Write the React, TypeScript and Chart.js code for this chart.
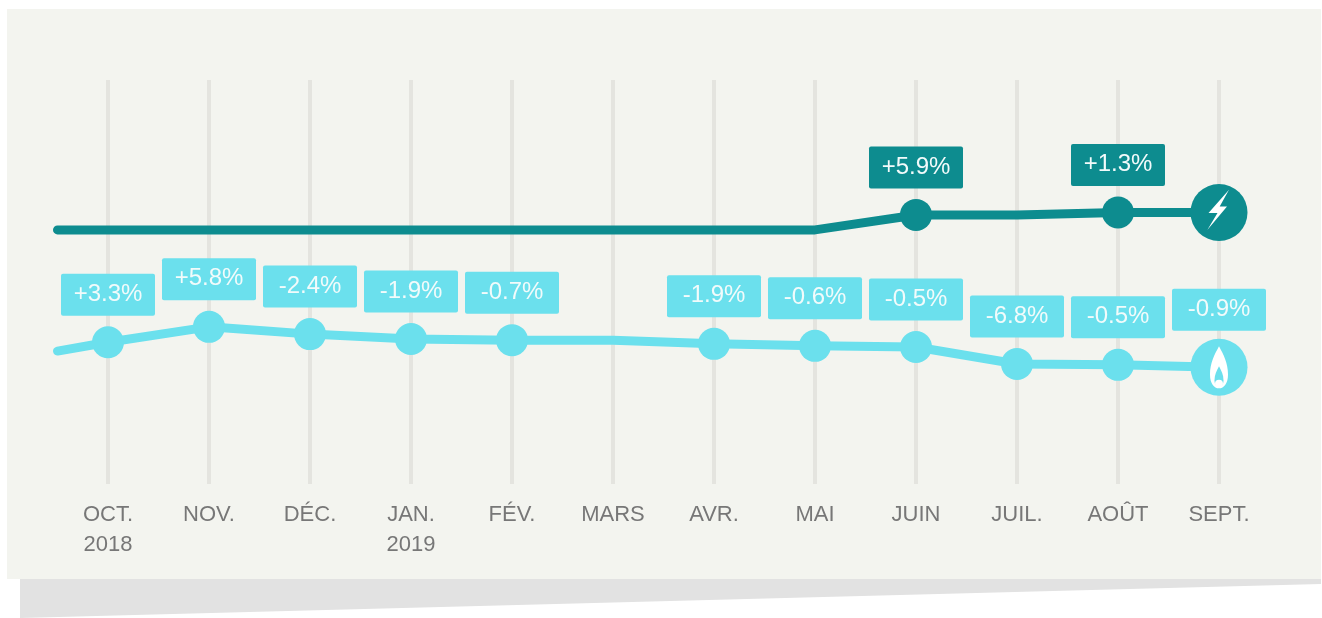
import React, { useEffect, useRef } from "react";
import { Chart, registerables } from "chart.js";

Chart.register(...registerables);

const months = ["OCT.", "NOV.", "DÉC.", "JAN.", "FÉV.", "MARS", "AVR.", "MAI", "JUIN", "JUIL.", "AOÛT", "SEPT."];
const years = ["2018", "", "", "2019", "", "", "", "", "", "", "", ""];

// Index values per month; the line also starts half a month before OCT.
const xPositions = [-0.5, 0, 1, 2, 3, 4, 5, 6, 7, 8, 9, 10, 11];
const electricity = [62.9, 62.9, 62.9, 62.9, 62.9, 62.9, 62.9, 62.9, 62.9, 66.6, 66.6, 67.2, 67.2];
const gas = [32.9, 35.1, 38.9, 37.1, 35.9, 35.6, 35.6, 34.7, 34.2, 33.9, 29.7, 29.5, 28.9];

const electricityLabels = ["", "", "", "", "", "", "", "", "", "+5.9%", "", "+1.3%", ""];
const gasLabels = ["", "+3.3%", "+5.8%", "-2.4%", "-1.9%", "-0.7%", "", "-1.9%", "-0.6%", "-0.5%", "-6.8%", "-0.5%", "-0.9%"];

const DARK = "#0d8c8f";
const LIGHT = "#6be0ed";
const PANEL = "#f3f4ef";
const SHADOW = "#e2e2e2";
const GRID = "#e4e4df";
const TICK = "#777777";
const BADGE_TEXT = "#f2fbfb";
const FONT = '"Liberation Sans", Arial, sans-serif';

const darkRadii = electricityLabels.map((l, i) =>
  i === electricityLabels.length - 1 ? 28.5 : l ? 16 : 0
);
const lightRadii = gasLabels.map((l, i) =>
  i === gasLabels.length - 1 ? 28.5 : l ? 16 : 0
);

function roundRect(ctx: CanvasRenderingContext2D, x: number, y: number, w: number, h: number, r: number) {
  ctx.beginPath();
  ctx.roundRect(x, y, w, h, r);
  ctx.fill();
}

function polygon(ctx: CanvasRenderingContext2D, cx: number, cy: number, pts: number[][]) {
  ctx.beginPath();
  pts.forEach(([dx, dy], i) => (i ? ctx.lineTo(cx + dx, cy + dy) : ctx.moveTo(cx + dx, cy + dy)));
  ctx.closePath();
  ctx.fill();
}

function flamePath(ctx: CanvasRenderingContext2D, x: number, top: number, bottom: number, hw: number) {
  const h = bottom - top;
  const wide = bottom - h * 0.33;
  ctx.beginPath();
  ctx.moveTo(x, top);
  ctx.bezierCurveTo(x + hw * 0.5, top + h * 0.2, x + hw, top + h * 0.4, x + hw, wide);
  ctx.bezierCurveTo(x + hw, bottom - h * 0.12, x + hw * 0.55, bottom, x, bottom);
  ctx.bezierCurveTo(x - hw * 0.55, bottom, x - hw, bottom - h * 0.12, x - hw, wide);
  ctx.bezierCurveTo(x - hw, top + h * 0.4, x - hw * 0.5, top + h * 0.2, x, top);
  ctx.closePath();
  ctx.fill();
}

const panelPlugin = {
  id: "panel",
  beforeDraw(chart: any) {
    const { ctx } = chart;
    ctx.save();
    ctx.fillStyle = SHADOW;
    ctx.beginPath();
    ctx.moveTo(20, 579);
    ctx.lineTo(1321, 579);
    ctx.lineTo(1321, 584);
    ctx.lineTo(20, 618);
    ctx.closePath();
    ctx.fill();
    ctx.fillStyle = PANEL;
    ctx.fillRect(7, 9, 1314, 570);
    ctx.restore();
  },
};

const badgePlugin = {
  id: "badges",
  afterDatasetsDraw(chart: any) {
    const { ctx } = chart;
    const sets: [number, string[], string][] = [
      [0, electricityLabels, DARK],
      [1, gasLabels, LIGHT],
    ];
    ctx.save();
    ctx.font = `24px ${FONT}`;
    ctx.textAlign = "center";
    ctx.textBaseline = "middle";
    for (const [idx, labels, color] of sets) {
      const pts = chart.getDatasetMeta(idx).data;
      labels.forEach((label, i) => {
        if (!label) return;
        const last = i === labels.length - 1;
        const p = pts[i];
        const bottom = p.y - (last ? 36.6 : 26.5);
        ctx.fillStyle = color;
        roundRect(ctx, p.x - 47, bottom - 42, 94, 42, 2);
        ctx.fillStyle = BADGE_TEXT;
        ctx.fillText(label, p.x, bottom - 21.5);
      });
    }

    // End-of-line icons
    const bolt = chart.getDatasetMeta(0).data[12];
    ctx.fillStyle = "#ffffff";
    polygon(ctx, bolt.x, bolt.y, [
      [10, -22.7],
      [-10.5, 0.5],
      [-1.5, 0.5],
      [-11.7, 17.5],
      [8, -6],
      [0.7, -6],
    ]);

    const flame = chart.getDatasetMeta(1).data[12];
    ctx.fillStyle = "#ffffff";
    flamePath(ctx, flame.x, flame.y - 21, flame.y + 21, 9);
    ctx.fillStyle = LIGHT;
    flamePath(ctx, flame.x, flame.y - 1, flame.y + 20, 4.5);
    ctx.fillStyle = "#ffffff";
    ctx.beginPath();
    ctx.arc(flame.x, flame.y + 16.5, 4, 0, Math.PI * 2);
    ctx.fill();
    ctx.restore();
  },
};

export default function App() {
  const ref = useRef<HTMLCanvasElement>(null);

  useEffect(() => {
    const chart = new Chart(ref.current!, {
      type: "line",
      data: {
        datasets: [
          {
            data: xPositions.map((x, i) => ({ x, y: electricity[i] })),
            borderColor: DARK,
            backgroundColor: DARK,
            borderWidth: 9,
            borderCapStyle: "round",
            borderJoinStyle: "round",
            tension: 0,
            pointRadius: darkRadii,
            pointBorderWidth: 0,
          },
          {
            data: xPositions.map((x, i) => ({ x, y: gas[i] })),
            borderColor: LIGHT,
            backgroundColor: LIGHT,
            borderWidth: 9,
            borderCapStyle: "round",
            borderJoinStyle: "round",
            tension: 0,
            pointRadius: lightRadii,
            pointBorderWidth: 0,
          },
        ],
      },
      options: {
        responsive: false,
        animation: false,
        layout: { autoPadding: false, padding: { left: 7, right: 2, top: 80, bottom: 0 } },
        plugins: { legend: { display: false }, tooltip: { enabled: false } },
        scales: {
          x: {
            type: "linear",
            min: -1,
            max: 12,
            afterFit(scale: any) {
              scale.height = 134;
            },
            border: { display: false },
            grid: {
              color: (c: any) => (months[c.tick?.value] ? GRID : "transparent"),
              lineWidth: 4,
              drawTicks: true,
              tickLength: 16,
              tickColor: "transparent",
            },
            ticks: {
              stepSize: 1,
              autoSkip: false,
              maxRotation: 0,
              padding: 0,
              color: TICK,
              font: { family: FONT, size: 22, lineHeight: 1.36 },
              callback: (v: any) => {
                const i = Number(v);
                if (!months[i]) return "";
                return years[i] ? [months[i], years[i]] : months[i];
              },
            },
          },
          y: { display: false, min: 0, max: 100 },
        },
      },
      plugins: [panelPlugin, badgePlugin],
    } as any);
    return () => chart.destroy();
  }, []);

  return (
    <div style={{ position: "fixed", left: 0, top: 0, width: 1322, height: 618, background: "#fff" }}>
      <canvas ref={ref} width={1322} height={618} style={{ display: "block" }} />
    </div>
  );
}
